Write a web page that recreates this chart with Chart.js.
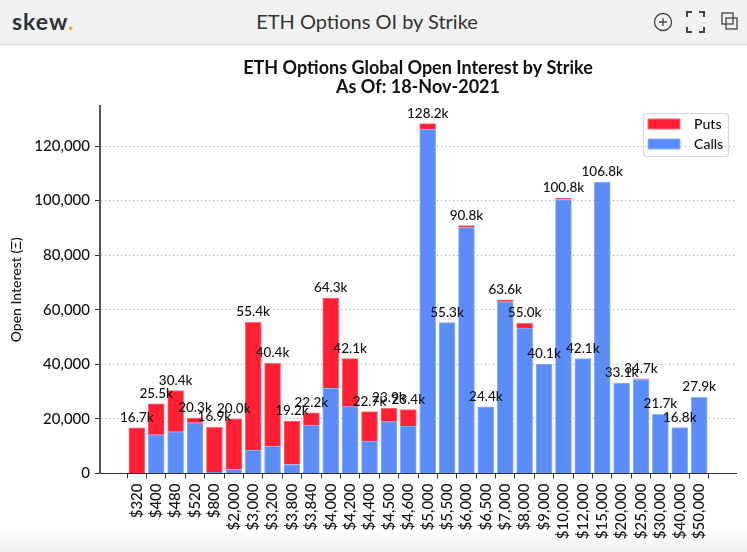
<!DOCTYPE html>
<html>
<head>
<meta charset="utf-8">
<script src="https://cdn.jsdelivr.net/npm/chart.js@4/dist/chart.umd.min.js"></script>
<style>
  html, body { margin: 0; padding: 0; width: 747px; height: 552px; overflow: hidden; background: #fff; font-family: Lato, sans-serif; }
  #header { position: absolute; left: 0; top: 0; width: 747px; height: 44px; background: #f1f1f1; border-bottom: 1px solid #d9d9d9; box-shadow: 0 1px 2px rgba(0,0,0,.08); }
  #logo { position: absolute; left: 12px; top: 7px; font-size: 23px; font-weight: 700; color: #2b3338; letter-spacing: 1px; }
  #logo span { color: #f0a820; }
  #heading { position: absolute; left: 0; width: 734px; top: 9px; text-align: center; font-size: 20px; color: #333; }
  #icons { position: absolute; left: 650px; top: 11px; }
  #footer { position: absolute; left: 0; bottom: 0; width: 747px; height: 24px; background: linear-gradient(#fff, #efefef); }
  canvas { position: absolute; left: 0; top: 0; }
</style>
</head>
<body>
<div id="footer"></div>
<div id="header">
  <div id="logo">skew<span>.</span></div>
  <div id="heading">ETH Options OI by Strike</div>
  <svg id="icons" width="94" height="24" fill="none" stroke="#444" stroke-width="1.3">
    <circle cx="13" cy="11" r="8.5"/><path d="M13 7v8M9 11h8"/>
    <path stroke-width="2" d="M37 6V1h5M49 1h5v5M37 16v5h5M49 21h5v-5"/>
    <rect x="72" y="2" width="11" height="11"/><rect x="76" y="7" width="11" height="11"/>
  </svg>
</div>
<canvas id="myChart" width="747" height="552"></canvas>
<script>
const strikes = ['$320','$400','$480','$520','$800','$2,000','$3,000','$3,200','$3,800','$3,840','$4,000','$4,200','$4,400','$4,500','$4,600','$5,000','$5,500','$6,000','$6,500','$7,000','$8,000','$9,000','$10,000','$12,000','$15,000','$20,000','$25,000','$30,000','$40,000','$50,000'];
const calls = [0,14.2,15.3,18.6,0.5,1.5,8.6,10.0,3.3,17.7,31.2,24.5,11.9,19.0,17.4,126.1,55.3,90.1,24.4,62.9,53.3,40.1,100.4,42.1,106.8,33.1,34.4,21.7,16.8,27.9];
const puts = [16.7,11.3,15.1,1.7,16.4,18.5,46.8,30.4,15.9,4.5,33.1,17.6,10.8,4.9,6.0,2.1,0,0.7,0,0.7,1.7,0,0.4,0,0,0,0.3,0,0,0];
const totalLabels = ['16.7k','25.5k','30.4k','20.3k','16.9k','20.0k','55.4k','40.4k','19.2k','22.2k','64.3k','42.1k','22.7k','23.9k','23.4k','128.2k','55.3k','90.8k','24.4k','63.6k','55.0k','40.1k','100.8k','42.1k','106.8k','33.1k','34.7k','21.7k','16.8k','27.9k'];
const yTicks = [0,20000,40000,60000,80000,100000,120000];

const FONT = 'Lato, sans-serif';
const toPoints = (arr) => arr.map((v, i) => ({ x: i, y: v * 1000 }));

// total above each stacked bar
const totalsPlugin = {
  id: 'totals',
  afterDatasetsDraw(chart) {
    const { ctx, scales } = chart;
    ctx.save();
    ctx.font = '500 13.5px ' + FONT;
    ctx.fillStyle = '#111';
    ctx.textAlign = 'center';
    ctx.textBaseline = 'alphabetic';
    totalLabels.forEach((t, i) => {
      ctx.fillText(t, scales.x.getPixelForValue(i), scales.y.getPixelForValue((calls[i] + puts[i]) * 1000) - 6);
    });
    ctx.restore();
  }
};

// moves the legend to the top right and draws the frame around it
const legendBoxPlugin = {
  id: 'legendBox',
  beforeDraw(chart) {
    const { ctx, legend } = chart;
    legend.left = 642;
    legend.top = 111;
    ctx.save();
    ctx.strokeStyle = '#d8d8d8';
    ctx.lineWidth = 1.2;
    ctx.beginPath();
    ctx.roundRect(643.5, 113.5, 85, 43, 3);
    ctx.stroke();
    ctx.restore();
  }
};

new Chart(document.getElementById('myChart'), {
  type: 'bar',
  data: {
    datasets: [
      { label: 'Calls', data: toPoints(calls), backgroundColor: '#5c8cf8', borderColor: '#8fb0fa', borderWidth: 1, barThickness: 16, stack: 's' },
      { label: 'Puts', data: toPoints(puts), backgroundColor: '#ff2035', borderColor: '#ff6a78', borderWidth: 1, barThickness: 16, stack: 's' }
    ]
  },
  plugins: [legendBoxPlugin, totalsPlugin],
  options: {
    responsive: false,
    animation: false,
    layout: { padding: { left: 0, right: 11, top: 0, bottom: 0 } },
    plugins: {
      tooltip: { enabled: false },
      title: {
        display: true,
        fullSize: false,
        text: ['ETH Options Global Open Interest by Strike', 'As Of: 18-Nov-2021'],
        color: '#111',
        font: { family: FONT, size: 18, weight: 'bold', lineHeight: 1.06 },
        padding: { top: 59, bottom: 9 }
      },
      legend: {
        position: 'chartArea',
        align: 'start',
        reverse: true,
        labels: {
          boxWidth: 32, boxHeight: 10, padding: 6, color: '#111', font: { family: FONT, size: 14, weight: '500' },
          generateLabels: (chart) => Chart.defaults.plugins.legend.labels.generateLabels(chart).map((l) => ({ ...l, text: '  ' + l.text }))
        }
      }
    },
    scales: {
      x: {
        type: 'linear',
        stacked: true,
        offset: false,
        min: -1.9,
        max: 30.9,
        afterBuildTicks: (axis) => { axis.ticks = strikes.map((s, i) => ({ value: i })); },
        afterFit: (axis) => { axis.height = 78.5; },
        grid: { drawOnChartArea: false, tickColor: '#333', tickLength: 5 },
        border: { color: '#333', width: 1 },
        ticks: {
          autoSkip: false, minRotation: 90, maxRotation: 90, padding: 5, color: '#111',
          font: { family: FONT, size: 15, weight: '500' },
          callback: (v) => strikes[v]
        }
      },
      y: {
        stacked: true,
        min: 0,
        max: 134600,
        afterBuildTicks: (axis) => { axis.ticks = yTicks.map((v) => ({ value: v })); },
        afterFit: (axis) => { axis.width = 100; },
        grid: { color: '#aaaaaa', lineWidth: 1, tickColor: '#333', tickLength: 5, tickBorderDash: [] },
        border: { color: '#555', width: 2, dash: [1, 3] },
        title: { display: true, text: 'Open Interest (Ξ)', color: '#111', font: { family: FONT, size: 14, weight: '500' }, padding: { top: 8, bottom: 0 } },
        ticks: {
          padding: 5, color: '#111',
          font: { family: FONT, size: 15, weight: '500' },
          callback: (v) => v.toLocaleString('en-US')
        }
      }
    }
  }
});
</script>
</body>
</html>
